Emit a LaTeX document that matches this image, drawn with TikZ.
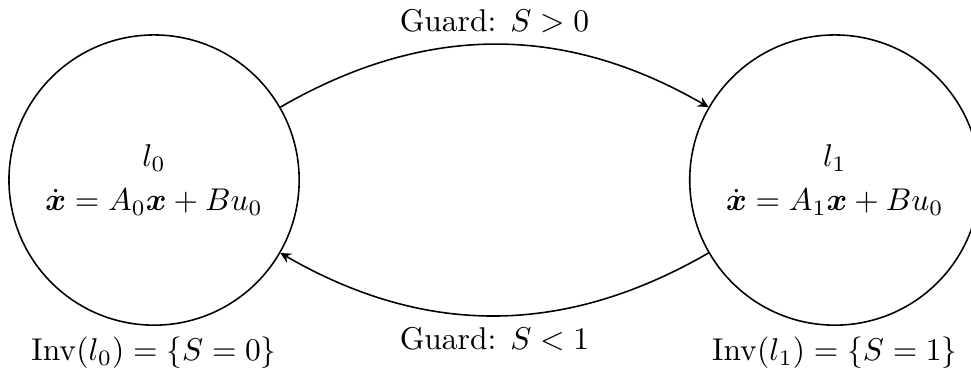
\documentclass[tikz,border=0pt]{standalone}
\usepackage{amsmath,amssymb}
\usepackage{tikz}
\usetikzlibrary{positioning}

\begin{document}
\begin{tikzpicture}[>=stealth, line width=0.5pt, loc/.style={circle, draw, minimum size=3.24cm, inner sep=0pt, align=center}]
      \useasboundingbox (-1.72,-2.14) rectangle (9.12,2.01);
      \node[loc] (l0) at (0,0) {$l_0$\\[2pt] $\dot{\boldsymbol{x}} = A_0\boldsymbol{x} + Bu_0$};
      \node[loc] (l1) at (7.6,0) {$l_1$\\[2pt] $\dot{\boldsymbol{x}} = A_1\boldsymbol{x} + Bu_0$};

      \draw[->] (l0) to[bend left=30] node[above] (g0) {Guard: $S > 0$} (l1);
      \draw[->] (l1) to[bend left=30] node[below] (g1) {Guard: $S < 1$} (l0);

      \node[below=0pt of l0] (inv0) {$\mathrm{Inv}(l_0) = \{S = 0\}$};
      \node[below=0pt of l1] (inv1) {$\mathrm{Inv}(l_1) = \{S = 1\}$};
    \end{tikzpicture}
\end{document}
